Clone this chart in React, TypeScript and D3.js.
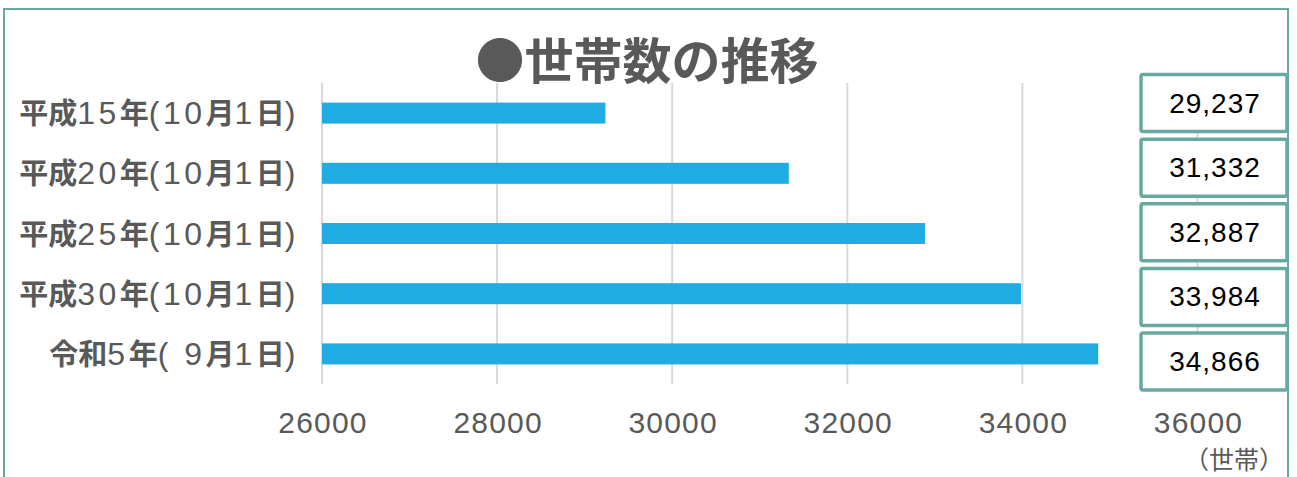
import React from "react";
import * as d3 from "d3";

const categories = [
  "平成15年(10月1日)",
  "平成20年(10月1日)",
  "平成25年(10月1日)",
  "平成30年(10月1日)",
  "令和5年( 9月1日)",
];
const households = [29237, 31332, 32887, 33984, 34866];
const xTicks = [26000, 28000, 30000, 32000, 34000, 36000];

const W = 1297;
const H = 477;
const TEAL = "#67a8a1";
const GREY = "#595959";
const FONT = "'Liberation Sans', Arial, 'Noto Sans CJK JP', sans-serif";
const JP = "'Noto Sans CJK JP', sans-serif";

// 漢字は太字、数字は細字
const splitLabel = (s: string) => {
  const parts: { t: string; bold: boolean }[] = [];
  for (const ch of s) {
    const bold = /[\u3040-\u9fff]/.test(ch);
    const last = parts[parts.length - 1];
    if (last && last.bold === bold) last.t += ch;
    else parts.push({ t: ch, bold });
  }
  return parts;
};

const App = () => {
  const ref = React.useRef<SVGSVGElement | null>(null);

  React.useEffect(() => {
    const svg = d3.select(ref.current);
    svg.selectAll("*").remove();

    const plot = { left: 322, right: 1197.5, top: 83, bottom: 384 };

    const x = d3.scaleLinear().domain([26000, 36000]).range([plot.left, plot.right]);
    const y = d3.scaleBand().domain(categories).range([plot.top, plot.bottom]).paddingInner(0).paddingOuter(0);
    const boxY = d3.scalePoint().domain(categories).range([102.5, 361]);

    svg.append("rect").attr("width", W).attr("height", H).attr("fill", "#fff");

    // 外枠
    svg
      .append("rect")
      .attr("x", 4)
      .attr("y", 9)
      .attr("width", 1284)
      .attr("height", 500)
      .attr("fill", "none")
      .attr("stroke", TEAL)
      .attr("stroke-width", 2);

    // グリッド線
    svg
      .append("g")
      .selectAll("line")
      .data(xTicks)
      .enter()
      .append("line")
      .attr("x1", (d) => x(d))
      .attr("x2", (d) => x(d))
      .attr("y1", plot.top)
      .attr("y2", plot.bottom)
      .attr("stroke", "#d9d9d9")
      .attr("stroke-width", 2);

    // 棒
    const barH = 21;
    svg
      .append("g")
      .selectAll("rect")
      .data(households)
      .enter()
      .append("rect")
      .attr("x", x(26000))
      .attr("y", (d, i) => (y(categories[i]) || 0) + y.bandwidth() / 2 - barH / 2)
      .attr("width", (d) => x(d) - x(26000))
      .attr("height", barH)
      .attr("fill", "#1eace3");

    // 軸ラベル(カテゴリ)
    const lab = svg
      .append("g")
      .selectAll("text")
      .data(categories)
      .enter()
      .append("text")
      .attr("x", 299)
      .attr("y", (d) => (y(d) || 0) + y.bandwidth() / 2 + 11)
      .attr("text-anchor", "end")
      .attr("fill", GREY)
      .attr("xml:space", "preserve");
    lab
      .selectAll("tspan")
      .data((d) => splitLabel(d))
      .enter()
      .append("tspan")
      .attr("font-weight", (p) => (p.bold ? "bold" : "normal"))
      .attr("font-family", (p) => (p.bold ? JP : FONT))
      .attr("font-size", (p) => (p.bold ? 29 : 32))
      .attr("letter-spacing", (p) => (p.bold ? 0 : 3.5))
      .text((p) => p.t);

    // x軸目盛
    svg
      .append("g")
      .selectAll("text")
      .data(xTicks)
      .enter()
      .append("text")
      .attr("x", (d) => x(d) + 1)
      .attr("y", 433)
      .attr("text-anchor", "middle")
      .attr("font-family", FONT)
      .attr("font-size", 30)
      .attr("letter-spacing", 1.2)
      .attr("fill", GREY)
      .text((d) => String(d));

    svg
      .append("text")
      .attr("x", 1284)
      .attr("y", 469)
      .attr("text-anchor", "end")
      .attr("font-family", JP)
      .attr("font-size", 25)
      .attr("fill", GREY)
      .text("（世帯）");

    // データラベル
    const box = svg
      .append("g")
      .selectAll("g")
      .data(households)
      .enter()
      .append("g")
      .attr("transform", (d, i) => `translate(0,${boxY(categories[i])})`);
    box
      .append("rect")
      .attr("x", 1141)
      .attr("y", -28)
      .attr("width", 146)
      .attr("height", 57)
      .attr("rx", 2)
      .attr("fill", "#fff")
      .attr("stroke", TEAL)
      .attr("stroke-width", 3.5);
    box
      .append("text")
      .attr("x", 1215)
      .attr("y", 10)
      .attr("text-anchor", "middle")
      .attr("font-family", FONT)
      .attr("font-size", 28)
      .attr("letter-spacing", 1)
      .attr("fill", "#000")
      .text((d) => d3.format(",")(d));

    // タイトル
    svg
      .append("text")
      .attr("x", 647)
      .attr("y", 79)
      .attr("text-anchor", "middle")
      .attr("font-family", JP)
      .attr("font-weight", "bold")
      .attr("font-size", 49)
      .attr("fill", GREY)
      .text("●世帯数の推移");
  }, []);

  return (
    <div style={{ position: "absolute", left: 0, top: 0 }}>
      <svg ref={ref} width={W} height={H} style={{ display: "block" }}></svg>
    </div>
  );
};

export default App;
